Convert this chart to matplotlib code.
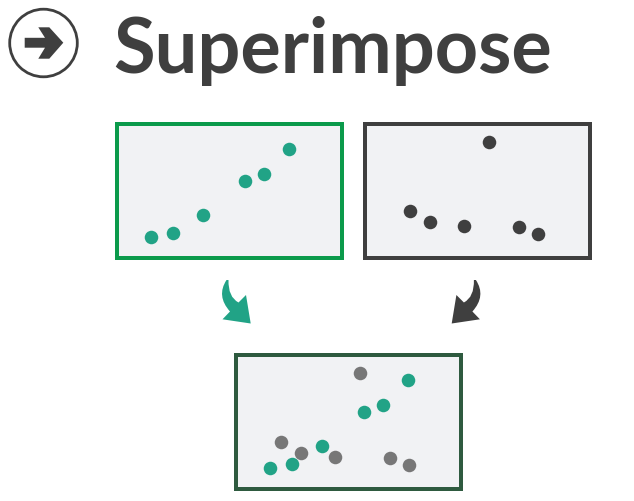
import matplotlib
matplotlib.use('Agg')
import matplotlib.pyplot as plt
from matplotlib.patches import Circle, Polygon, PathPatch
from matplotlib.path import Path

W, H = 634, 501

# points as measured inside a panel (x from left edge, y from bottom edge)
green_x = [36, 58, 88, 130, 149, 174]
green_y = [23, 27, 45, 79, 86, 111]
dark_x = [47, 67, 101, 126, 156, 175]
dark_y = [49, 38, 34, 118, 33, 26]

title = 'Superimpose'

DARK = '#3f3f3f'
TEAL = '#21a386'
GREY = '#777777'
PANEL = '#f1f2f4'


def panel(fig, left, top, edge):
    # left/top are outer pixel corners of the frame
    pw, ph = 229, 138
    lw = 4
    ax = fig.add_axes([(left+lw/2)/W, 1-(top+ph-lw/2)/H, (pw-lw)/W, (ph-lw)/H])
    ax.set_xlim(lw/2, pw-lw/2)
    ax.set_ylim(lw/2, ph-lw/2)
    ax.set_facecolor(PANEL)
    ax.set_xticks([])
    ax.set_yticks([])
    for s in ax.spines.values():
        s.set_color(edge)
        s.set_linewidth(lw*0.72)
    return ax


def curved_arrow(ov, mirror, color):
    def m(p):
        return (702.4-p[0], p[1]) if mirror else p
    verts = [(226.5, 280), (216, 296), (230, 311.5), (222.5, 319.3), (250.7, 323.5),
             (246, 295), (238.5, 302.5), (228, 297), (228.5, 280), (226.5, 280), (226.5, 280)]
    codes = [Path.MOVETO, Path.CURVE3, Path.CURVE3, Path.LINETO, Path.LINETO,
             Path.LINETO, Path.LINETO, Path.CURVE3, Path.CURVE3, Path.LINETO, Path.CLOSEPOLY]
    ov.add_patch(PathPatch(Path([m(v) for v in verts], codes), fc=color, ec='none'))


def main():
    fig = plt.figure(figsize=(W/100, H/100), dpi=100)

    ov = fig.add_axes([0, 0, 1, 1])
    ov.set_xlim(0, W)
    ov.set_ylim(H, 0)
    ov.axis('off')

    # icon
    ov.add_patch(Circle((43.5, 43), 33.8, fc='white', ec=DARK, lw=2.0))
    icon = [(24.7, 37.8), (45, 37.8), (38.3, 27.3), (49.3, 27.3), (63.3, 42.7),
            (49.3, 58.7), (38.3, 58.7), (45, 47.7), (24.7, 47.7)]
    ov.add_patch(Polygon(icon, closed=True, fc=DARK, ec='none'))

    ov.text(113, 73, title, fontsize=54.5, fontweight='bold', family='Lato',
            color=DARK, ha='left', va='baseline')

    curved_arrow(ov, False, TEAL)
    curved_arrow(ov, True, DARK)

    a = panel(fig, 114.5, 122, '#0b9a4b')
    a.scatter(green_x, green_y, s=95, color=TEAL, linewidths=0)

    b = panel(fig, 362.6, 122, DARK)
    b.scatter(dark_x, dark_y, s=95, color=DARK, linewidths=0)

    c = panel(fig, 233.8, 353, '#2e5a3f')
    c.scatter(dark_x, dark_y, s=95, color=GREY, linewidths=0)
    c.scatter(green_x, green_y, s=95, color=TEAL, linewidths=0)

    fig.savefig('out.png', dpi=100)


if __name__ == '__main__':
    main()
